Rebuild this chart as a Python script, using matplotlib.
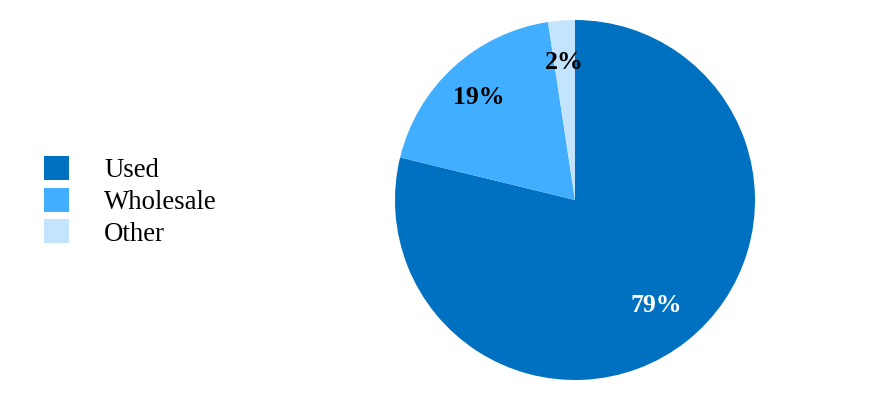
import numpy as np
import matplotlib.pyplot as plt
from matplotlib.patches import Patch

plt.rcParams['font.family'] = ['Liberation Serif', 'DejaVu Serif']

labels = ['Used', 'Wholesale', 'Other']
shares = [78.8, 18.8, 2.4]
pct_labels = ['79%', '19%', '2%']
colors = ['#0070C0', '#41AEFF', '#C2E4FF']
label_colors = ['white', 'black', 'black']
label_radius = [0.73, 0.79, 0.78]

fig = plt.figure(figsize=(8.92, 4.0), dpi=100)
ax = fig.add_axes([395 / 892, 20 / 400, 360 / 892, 360 / 400])

wedges, _ = ax.pie(shares, colors=colors, startangle=90, counterclock=False,
                   radius=1.0)
for w, t, c, r in zip(wedges, pct_labels, label_colors, label_radius):
    mid = np.deg2rad((w.theta1 + w.theta2) / 2)
    ax.text(r * np.cos(mid), r * np.sin(mid), t, ha='center',
            va='center_baseline', fontsize=18.5, fontweight='bold', color=c)
ax.set_xlim(-1, 1)
ax.set_ylim(-1, 1)
ax.set_aspect('equal')
ax.axis('off')

handles = [Patch(facecolor=c, edgecolor='none') for c in colors]
fig.legend(handles, labels, loc='center left', bbox_to_anchor=(0.037, 0.497),
           frameon=False, fontsize=19.3, handlelength=0.95, handleheight=1.0,
           handletextpad=1.3, labelspacing=0.17, borderaxespad=0)

fig.savefig('out.png', dpi=100)
